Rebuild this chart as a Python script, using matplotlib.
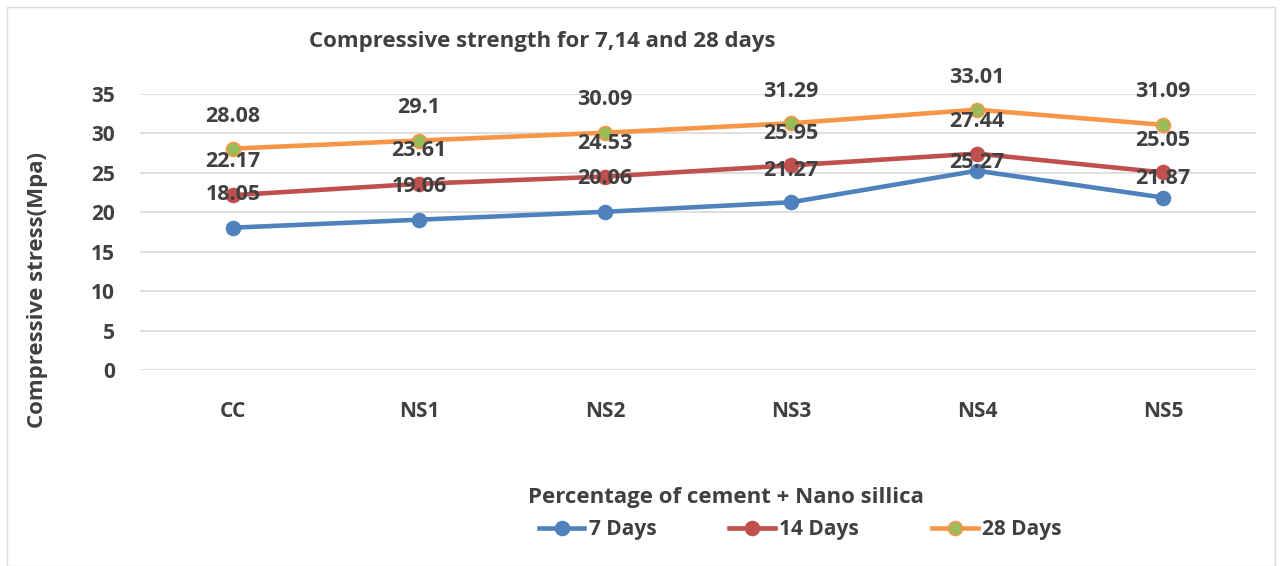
import matplotlib
matplotlib.use("Agg")
from matplotlib import pyplot
from matplotlib.patches import Rectangle

categories = ["CC", "NS1", "NS2", "NS3", "NS4", "NS5"]
days7 = [18.05, 19.06, 20.06, 21.27, 25.27, 21.87]
days14 = [22.17, 23.61, 24.53, 25.95, 27.44, 25.05]
days28 = [28.08, 29.1, 30.09, 31.29, 33.01, 31.09]
yticks = [0, 5, 10, 15, 20, 25, 30, 35]

# label lift above each point, in points
lift7 = [24, 24, 24, 23, 6, 14]
lift14 = [24, 24, 24, 23, 23, 23]
lift28 = [23, 24, 24, 23, 23, 24]

pyplot.rcParams["font.family"] = ["Open Sans", "DejaVu Sans"]
txt = "#404040"

fig = pyplot.figure(figsize=(12.82, 5.66), dpi=100)
fig.patches.append(Rectangle((7/1282, 0.0), 1 - 14/1282, 1 - 7/566, transform=fig.transFigure,
                             fill=False, edgecolor="#d9d9d9", linewidth=1))
ax = fig.add_axes([140/1282, 1 - 370/566, 1116/1282, 276/566])

x = list(range(len(categories)))
series = [
    ("7 Days", days7, lift7, "#4F81BD", "#4F81BD"),
    ("14 Days", days14, lift14, "#C0504D", "#C0504D"),
    ("28 Days", days28, lift28, "#F79646", "#9BBB59"),
]
for name, vals, lifts, col, face in series:
    ax.plot(x, vals, color=col, linewidth=3.3, marker="o", markersize=10,
            markerfacecolor=face, markeredgecolor=col, markeredgewidth=1.2,
            label=name, zorder=3)
    for xi, v, dy in zip(x, vals, lifts):
        ax.annotate(str(v), (xi, v), xytext=(0, dy), textcoords="offset points",
                    ha="center", va="center", fontsize=15.5, fontweight="bold",
                    color=txt, zorder=4)

ax.set_xlim(-0.5, len(categories) - 0.5)
ax.set_ylim(0, 35)
ax.set_yticks(yticks)
ax.set_xticks(x)
ax.set_xticklabels(categories)
ax.grid(axis="y", color="#d9d9d9", linewidth=1.2)
ax.set_axisbelow(True)
for s in ax.spines.values():
    s.set_visible(False)
ax.tick_params(length=0, labelsize=15, colors=txt)
ax.tick_params(axis="y", pad=18)
ax.tick_params(axis="x", pad=22)
for lab in ax.get_xticklabels() + ax.get_yticklabels():
    lab.set_fontweight("bold")

fig.text(542/1282, 1 - 42/566, "Compressive strength for 7,14 and 28 days", ha="center",
         va="center", fontsize=16, fontweight="bold", color=txt)
fig.text(38/1282, 1 - 290/566, "Compressive stress(Mpa)", rotation=90, ha="center",
         va="center", fontsize=16, fontweight="bold", color=txt)
fig.text(726/1282, 1 - 498/566, "Percentage of cement + Nano sillica", ha="center",
         va="center", fontsize=16, fontweight="bold", color=txt)

leg = fig.legend(loc="center", bbox_to_anchor=(800/1282, 1 - 530/566), ncol=3, frameon=False,
                 prop={"size": 15, "weight": "bold"}, handlelength=2.2, columnspacing=3.5,
                 handletextpad=0.2)
for t in leg.get_texts():
    t.set_color(txt)

pyplot.savefig("out.png", dpi=100)
